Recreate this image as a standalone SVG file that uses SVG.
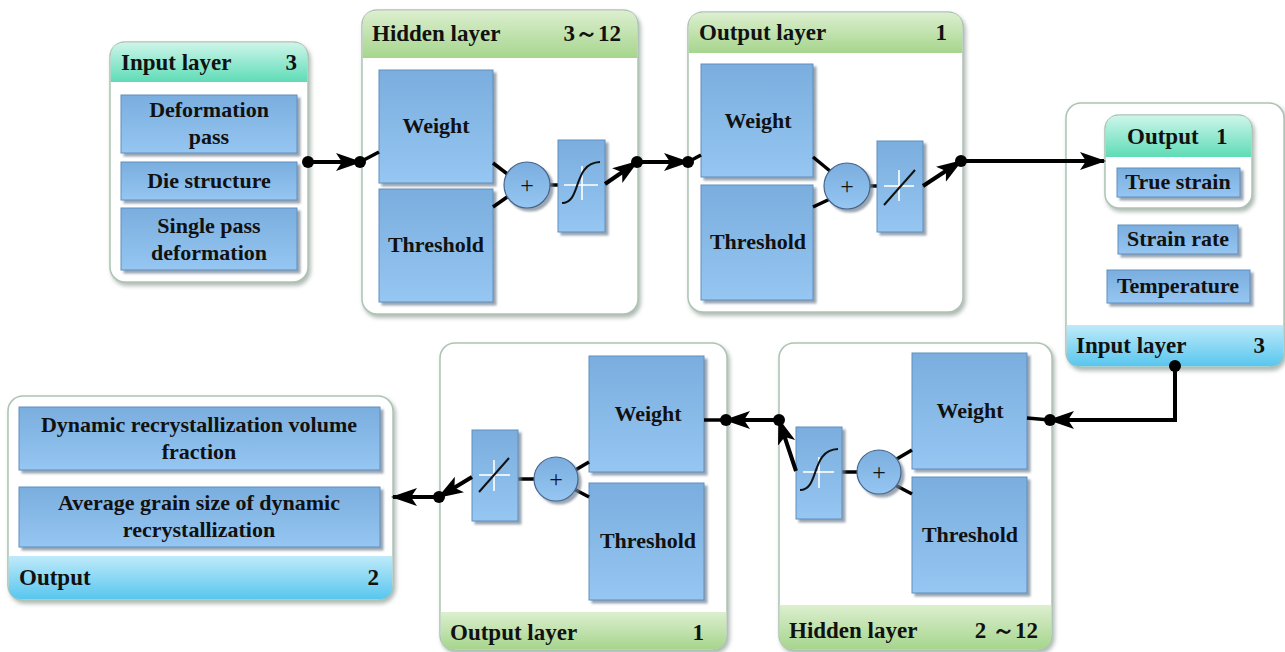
<svg xmlns="http://www.w3.org/2000/svg" width="1285" height="652" viewBox="0 0 1285 652">
<defs>
<linearGradient id="gBox" x1="0" y1="0" x2="0" y2="1"><stop offset="0" stop-color="#7aaede"/><stop offset="1" stop-color="#96c6f2"/></linearGradient>
<linearGradient id="gGreen" x1="0" y1="0" x2="0" y2="1"><stop offset="0" stop-color="#dcefcf"/><stop offset="1" stop-color="#a6d58d"/></linearGradient>
<linearGradient id="gTeal" x1="0" y1="0" x2="0" y2="1"><stop offset="0" stop-color="#cdf5ea"/><stop offset="1" stop-color="#5edcb6"/></linearGradient>
<linearGradient id="gBlue" x1="0" y1="0" x2="0" y2="1"><stop offset="0" stop-color="#bfeafa"/><stop offset="1" stop-color="#58c6ee"/></linearGradient>
<filter id="sh" x="-10%" y="-10%" width="130%" height="130%"><feDropShadow dx="3" dy="3" stdDeviation="1.2" flood-color="#6f7f8f" flood-opacity="0.7"/></filter>
<filter id="shc" x="-10%" y="-10%" width="130%" height="130%"><feDropShadow dx="2" dy="3" stdDeviation="2" flood-color="#9aa6a0" flood-opacity="0.8"/></filter>
<marker id="ah" markerUnits="userSpaceOnUse" markerWidth="26" markerHeight="20" viewBox="0 0 26 20" refX="24" refY="10" orient="auto"><path d="M0,1 L26,10 L0,19 L6,10 Z" fill="#000"/></marker>
</defs>
<style>
.cont{fill:#fff;stroke:#adc4b4;stroke-width:1.5;filter:url(#shc)}
.box{fill:url(#gBox);stroke:#5f8fbf;stroke-width:1;filter:url(#sh)}
.circ{fill:url(#gBox);stroke:#44658c;stroke-width:1.2;filter:url(#sh)}
.hg{fill:url(#gGreen)}
.ht{fill:url(#gTeal)}
.hb{fill:url(#gBlue)}
.t{font-family:"Liberation Serif","Times New Roman",serif;font-weight:bold;font-size:22px;fill:#111}
.h{font-family:"Liberation Serif","Times New Roman",serif;font-weight:bold;font-size:23px;fill:#111}
.c{text-anchor:middle}
.e{text-anchor:end}
.plus{font-family:"Liberation Serif","Times New Roman",serif;font-size:24px;fill:#111;text-anchor:middle}
.wl{stroke:#fff;stroke-width:1.6}
.bl{fill:none;stroke:#111;stroke-width:2}
.con{fill:none;stroke:#000;stroke-width:4}
.th{fill:none;stroke:#000;stroke-width:3.5}
</style>

<g id="input-top">
<rect class="cont" x="110" y="42" width="198" height="240" rx="15"/>
<path class="ht" d="M110.75,82 V57 Q110.75,42.75 125,42.75 H293 Q307.25,42.75 307.25,57 V82 Z"/>
<text class="h" x="121" y="70">Input layer</text>
<text class="h e" x="297" y="70">3</text>
<rect class="box" x="121" y="95" width="176" height="58"/>
<text class="t c" x="209" y="117">Deformation</text>
<text class="t c" x="209" y="144">pass</text>
<rect class="box" x="121" y="162" width="176" height="38"/>
<text class="t c" x="209" y="188">Die structure</text>
<rect class="box" x="121" y="208" width="176" height="62"/>
<text class="t c" x="209" y="233">Single pass</text>
<text class="t c" x="209" y="260">deformation</text>
</g>

<g id="hidden-top">
<rect class="cont" x="362" y="10" width="276" height="304" rx="15"/>
<path class="hg" d="M362.75,58 V25 Q362.75,10.75 377,10.75 H623 Q637.25,10.75 637.25,25 V58 Z"/>
<text class="h" x="372" y="41">Hidden layer</text>
<text class="h e" x="621" y="41">3～12</text>
<rect class="box" x="379" y="70" width="114" height="113"/>
<text class="t c" x="436" y="133">Weight</text>
<rect class="box" x="379" y="189" width="114" height="113"/>
<text class="t c" x="436" y="252">Threshold</text>
<line class="th" x1="493" y1="163" x2="510" y2="176"/>
<line class="th" x1="493" y1="207" x2="510" y2="195"/>
<line class="th" x1="550" y1="185" x2="558" y2="185"/>
<circle class="circ" cx="527" cy="185" r="23"/>
<text class="plus" x="527" y="193">+</text>
<rect class="box" x="558" y="140" width="47" height="92"/>
<line class="wl" x1="564" y1="185" x2="598" y2="185"/><line class="wl" x1="582" y1="166" x2="582" y2="200"/>
<path class="bl" d="M562,203 C582,203 572,163 600,162"/>
</g>

<g id="output-top">
<rect class="cont" x="688" y="12" width="275" height="300" rx="15"/>
<path class="hg" d="M688.75,53 V27 Q688.75,12.75 703,12.75 H948 Q962.25,12.75 962.25,27 V53 Z"/>
<text class="h" x="699" y="40">Output layer</text>
<text class="h e" x="947" y="40">1</text>
<rect class="box" x="701" y="64" width="112" height="113"/>
<text class="t c" x="758" y="128">Weight</text>
<rect class="box" x="701" y="185" width="112" height="115"/>
<text class="t c" x="758" y="249">Threshold</text>
<line class="th" x1="813" y1="157" x2="830" y2="171"/>
<line class="th" x1="813" y1="207" x2="830" y2="199"/>
<line class="th" x1="870" y1="186" x2="877" y2="186"/>
<circle class="circ" cx="847" cy="186" r="23"/>
<text class="plus" x="847" y="194">+</text>
<rect class="box" x="877" y="141" width="46" height="91"/>
<line class="wl" x1="884" y1="186" x2="914" y2="186"/><line class="wl" x1="899" y1="170" x2="899" y2="201"/>
<line class="bl" x1="884" y1="205" x2="915" y2="170"/>
</g>

<g id="input-right">
<rect class="cont" x="1066" y="103" width="218" height="264" rx="15"/>
<path class="hb" d="M1066.75,325 V353 Q1066.75,366.25 1081,366.25 H1269 Q1283.25,366.25 1283.25,353 V325 Z"/>
<text class="h" x="1076" y="353">Input layer</text>
<text class="h e" x="1265" y="353">3</text>
<rect class="cont" x="1105" y="115" width="147" height="93" rx="14"/>
<path class="ht" d="M1105.75,157 V129 Q1105.75,115.75 1119,115.75 H1238 Q1251.25,115.75 1251.25,129 V157 Z"/>
<text class="h" x="1127" y="144">Output</text>
<text class="h" x="1216" y="144">1</text>
<rect class="box" x="1117" y="168" width="123" height="29"/>
<text class="t c" x="1178" y="189">True strain</text>
<rect class="box" x="1118" y="225" width="120" height="29"/>
<text class="t c" x="1178" y="246">Strain rate</text>
<rect class="box" x="1107" y="270" width="143" height="33"/>
<text class="t c" x="1178" y="293">Temperature</text>
</g>

<g id="hidden-bottom">
<rect class="cont" x="779" y="343" width="273" height="307" rx="15"/>
<path class="hg" d="M779.75,605 V636 Q779.75,649.25 794,649.25 H1037 Q1051.25,649.25 1051.25,636 V605 Z"/>
<text class="h" x="789" y="638">Hidden layer</text>
<text class="h e" x="1038" y="638">2 ～12</text>
<rect class="box" x="912" y="353" width="115" height="116"/>
<text class="t c" x="970" y="418">Weight</text>
<rect class="box" x="912" y="477" width="115" height="116"/>
<text class="t c" x="970" y="542">Threshold</text>
<line class="th" x1="912" y1="450" x2="895" y2="460"/>
<line class="th" x1="912" y1="494" x2="895" y2="485"/>
<line class="th" x1="857" y1="472" x2="842" y2="472"/>
<circle class="circ" cx="879" cy="472" r="22"/>
<text class="plus" x="879" y="480">+</text>
<rect class="box" x="796" y="427" width="46" height="92"/>
<line class="wl" x1="803" y1="472" x2="834" y2="472"/><line class="wl" x1="819" y1="457" x2="819" y2="488"/>
<path class="bl" d="M800,490 C820,490 810,450 838,449"/>
</g>

<g id="output-bottom">
<rect class="cont" x="440" y="343" width="287" height="307" rx="15"/>
<path class="hg" d="M440.75,612 V636 Q440.75,649.25 455,649.25 H712 Q726.25,649.25 726.25,636 V612 Z"/>
<text class="h" x="450" y="640">Output layer</text>
<text class="h e" x="704" y="640">1</text>
<rect class="box" x="589" y="356" width="115" height="116"/>
<text class="t c" x="648" y="421">Weight</text>
<rect class="box" x="589" y="483" width="115" height="117"/>
<text class="t c" x="648" y="548">Threshold</text>
<line class="th" x1="589" y1="462" x2="572" y2="472"/>
<line class="th" x1="589" y1="497" x2="572" y2="488"/>
<line class="th" x1="534" y1="479" x2="518" y2="479"/>
<circle class="circ" cx="556" cy="479" r="22"/>
<text class="plus" x="556" y="487">+</text>
<rect class="box" x="472" y="430" width="46" height="91"/>
<line class="wl" x1="479" y1="475" x2="510" y2="475"/><line class="wl" x1="494" y1="460" x2="494" y2="491"/>
<line class="bl" x1="479" y1="492" x2="509" y2="458"/>
</g>

<g id="output-left">
<rect class="cont" x="8" y="396" width="385" height="204" rx="15"/>
<path class="hb" d="M8.75,556 V586 Q8.75,599.25 23,599.25 H378 Q392.25,599.25 392.25,586 V556 Z"/>
<text class="h" x="19" y="585">Output</text>
<text class="h e" x="379" y="585">2</text>
<rect class="box" x="19" y="407" width="361" height="63"/>
<text class="t c" x="199" y="432">Dynamic recrystallization volume</text>
<text class="t c" x="199" y="459">fraction</text>
<rect class="box" x="19" y="487" width="361" height="60"/>
<text class="t c" x="199" y="510">Average grain size of dynamic</text>
<text class="t c" x="199" y="537">recrystallization</text>
</g>

<g id="connectors">
<line class="con" x1="308" y1="162" x2="360" y2="162" marker-end="url(#ah)"/>
<line class="th" x1="360" y1="162" x2="379" y2="152"/>
<circle cx="308" cy="162" r="6"/><circle cx="360" cy="162" r="6"/>
<line class="con" x1="605" y1="184" x2="637" y2="162" marker-end="url(#ah)"/>
<line class="con" x1="637" y1="162" x2="688" y2="162" marker-end="url(#ah)"/>
<line class="th" x1="688" y1="162" x2="701" y2="155"/>
<circle cx="637" cy="162" r="6"/><circle cx="688" cy="162" r="6"/>
<line class="con" x1="923" y1="186" x2="961" y2="161" marker-end="url(#ah)"/>
<line class="con" x1="961" y1="161" x2="1104" y2="161" marker-end="url(#ah)"/>
<circle cx="961" cy="161" r="6"/>
<polyline class="con" points="1175,366 1175,420 1050,420" marker-end="url(#ah)"/>
<circle cx="1175" cy="366" r="6"/>
<line class="th" x1="1050" y1="420" x2="1027" y2="418"/>
<circle cx="1050" cy="420" r="6"/>
<line class="con" x1="779" y1="420" x2="726" y2="420" marker-end="url(#ah)"/>
<line class="th" x1="726" y1="420" x2="704" y2="420"/>
<circle cx="726" cy="420" r="6"/>
<line class="con" x1="796" y1="471" x2="779" y2="420" marker-end="url(#ah)"/>
<circle cx="779" cy="420" r="6"/>
<line class="con" x1="472" y1="477" x2="439" y2="497" marker-end="url(#ah)"/>
<line class="con" x1="439" y1="497" x2="393" y2="497" marker-end="url(#ah)"/>
<circle cx="439" cy="497" r="6"/>
</g>
</svg>
